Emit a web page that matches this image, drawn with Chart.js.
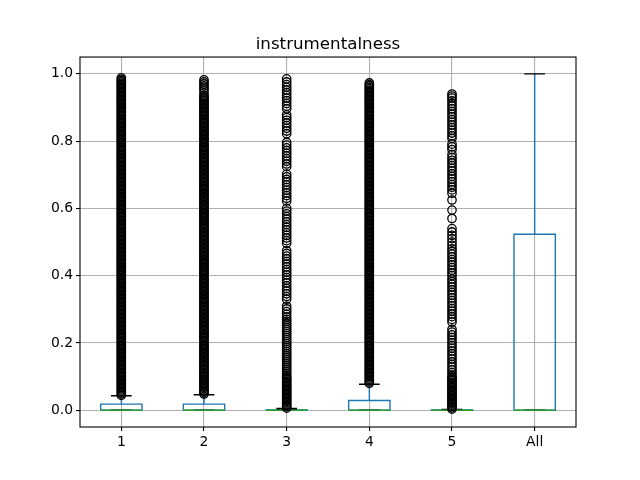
<!DOCTYPE html>
<html>
<head>
<meta charset="utf-8">
<script src="https://cdn.jsdelivr.net/npm/chart.js@4.4.1/dist/chart.umd.min.js"></script>
<style>
  html, body { margin: 0; padding: 0; background: #fff; }
</style>
</head>
<body>
<canvas id="chart" width="640" height="480"></canvas>
<script>
'use strict';

// box stats per group
let categories = ['1', '2', '3', '4', '5', 'All'];
let positions = [1, 2, 3, 4, 5, 6];
let q1 = [0, 0, 0, 0, 0, 0];
let medians = [0, 0, 0, 0, 0, 0];
let q3 = [0.018, 0.018, 0.0005, 0.029, 0.0005, 0.523];
let whiskLow = [0, 0, 0, 0, 0, 0];
let whiskHigh = [0.043, 0.046, 0.005, 0.077, 0.002, 1.0];
let yTicks = [0, 0.2, 0.4, 0.6, 0.8, 1.0];

// outliers - columns 1, 2, 4 are packed solid from the whisker to the top
let fliers1 = [
  0.044, 0.048, 0.052, 0.056, 0.060, 0.064, 0.068, 0.072, 0.076, 0.080, 0.084, 0.088, 0.092, 0.096,
  0.100, 0.104, 0.108, 0.112, 0.116, 0.120, 0.124, 0.128, 0.132, 0.136, 0.140, 0.144, 0.148, 0.152, 0.156, 0.160, 0.164, 0.168, 0.172, 0.176, 0.180, 0.184, 0.188, 0.192, 0.196,
  0.200, 0.204, 0.208, 0.212, 0.216, 0.220, 0.224, 0.228, 0.232, 0.236, 0.240, 0.244, 0.248, 0.252, 0.256, 0.260, 0.264, 0.268, 0.272, 0.276, 0.280, 0.284, 0.288, 0.292, 0.296,
  0.300, 0.304, 0.308, 0.312, 0.316, 0.320, 0.324, 0.328, 0.332, 0.336, 0.340, 0.344, 0.348, 0.352, 0.356, 0.360, 0.364, 0.368, 0.372, 0.376, 0.380, 0.384, 0.388, 0.392, 0.396,
  0.400, 0.404, 0.408, 0.412, 0.416, 0.420, 0.424, 0.428, 0.432, 0.436, 0.440, 0.444, 0.448, 0.452, 0.456, 0.460, 0.464, 0.468, 0.472, 0.476, 0.480, 0.484, 0.488, 0.492, 0.496,
  0.500, 0.504, 0.508, 0.512, 0.516, 0.520, 0.524, 0.528, 0.532, 0.536, 0.540, 0.544, 0.548, 0.552, 0.556, 0.560, 0.564, 0.568, 0.572, 0.576, 0.580, 0.584, 0.588, 0.592, 0.596,
  0.600, 0.604, 0.608, 0.612, 0.616, 0.620, 0.624, 0.628, 0.632, 0.636, 0.640, 0.644, 0.648, 0.652, 0.656, 0.660, 0.664, 0.668, 0.672, 0.676, 0.680, 0.684, 0.688, 0.692, 0.696,
  0.700, 0.704, 0.708, 0.712, 0.716, 0.720, 0.724, 0.728, 0.732, 0.736, 0.740, 0.744, 0.748, 0.752, 0.756, 0.760, 0.764, 0.768, 0.772, 0.776, 0.780, 0.784, 0.788, 0.792, 0.796,
  0.800, 0.804, 0.808, 0.812, 0.816, 0.820, 0.824, 0.828, 0.832, 0.836, 0.840, 0.844, 0.848, 0.852, 0.856, 0.860, 0.864, 0.868, 0.872, 0.876, 0.880, 0.884, 0.888, 0.892, 0.896,
  0.900, 0.904, 0.908, 0.912, 0.916, 0.920, 0.924, 0.928, 0.932, 0.936, 0.940, 0.944, 0.948, 0.952, 0.956, 0.960, 0.964, 0.968, 0.972, 0.976, 0.980, 0.984, 0.988
];
let fliers2 = [
  0.048, 0.052, 0.056, 0.060, 0.064, 0.068, 0.072, 0.076, 0.080, 0.084, 0.088, 0.092, 0.096,
  0.100, 0.104, 0.108, 0.112, 0.116, 0.120, 0.124, 0.128, 0.132, 0.136, 0.140, 0.144, 0.148, 0.152, 0.156, 0.160, 0.164, 0.168, 0.172, 0.176, 0.180, 0.184, 0.188, 0.192, 0.196,
  0.200, 0.204, 0.208, 0.212, 0.216, 0.220, 0.224, 0.228, 0.232, 0.236, 0.240, 0.244, 0.248, 0.252, 0.256, 0.260, 0.264, 0.268, 0.272, 0.276, 0.280, 0.284, 0.288, 0.292, 0.296,
  0.300, 0.304, 0.308, 0.312, 0.316, 0.320, 0.324, 0.328, 0.332, 0.336, 0.340, 0.344, 0.348, 0.352, 0.356, 0.360, 0.364, 0.368, 0.372, 0.376, 0.380, 0.384, 0.388, 0.392, 0.396,
  0.400, 0.404, 0.408, 0.412, 0.416, 0.420, 0.424, 0.428, 0.432, 0.436, 0.440, 0.444, 0.448, 0.452, 0.456, 0.460, 0.464, 0.468, 0.472, 0.476, 0.480, 0.484, 0.488, 0.492, 0.496,
  0.500, 0.504, 0.508, 0.512, 0.516, 0.520, 0.524, 0.528, 0.532, 0.536, 0.540, 0.544, 0.548, 0.552, 0.556, 0.560, 0.564, 0.568, 0.572, 0.576, 0.580, 0.584, 0.588, 0.592, 0.596,
  0.600, 0.604, 0.608, 0.612, 0.616, 0.620, 0.624, 0.628, 0.632, 0.636, 0.640, 0.644, 0.648, 0.652, 0.656, 0.660, 0.664, 0.668, 0.672, 0.676, 0.680, 0.684, 0.688, 0.692, 0.696,
  0.700, 0.704, 0.708, 0.712, 0.716, 0.720, 0.724, 0.728, 0.732, 0.736, 0.740, 0.744, 0.748, 0.752, 0.756, 0.760, 0.764, 0.768, 0.772, 0.776, 0.780, 0.784, 0.788, 0.792, 0.796,
  0.800, 0.804, 0.808, 0.812, 0.816, 0.820, 0.824, 0.828, 0.832, 0.836, 0.840, 0.844, 0.848, 0.852, 0.856, 0.860, 0.864, 0.868, 0.872, 0.876, 0.880, 0.884, 0.888, 0.892, 0.896,
  0.900, 0.904, 0.908, 0.912, 0.916, 0.920, 0.924, 0.928, 0.932, 0.936, 0.944, 0.952, 0.958, 0.964, 0.970, 0.976, 0.982
];
let fliers3 = [
  0.006, 0.010, 0.014, 0.018, 0.022, 0.026, 0.030, 0.034, 0.038, 0.042, 0.046, 0.050, 0.054, 0.058, 0.062, 0.066, 0.070, 0.074, 0.078, 0.082, 0.086, 0.090, 0.094, 0.098, 0.102,
  0.108, 0.114, 0.120, 0.126, 0.132, 0.138, 0.144, 0.150, 0.156, 0.162, 0.168, 0.174, 0.180, 0.186, 0.192, 0.198, 0.204, 0.210, 0.216, 0.222, 0.228, 0.234, 0.240, 0.246, 0.252, 0.258, 0.264, 0.270,
  0.277, 0.285, 0.293, 0.301, 0.309, 0.330, 0.338, 0.346, 0.354, 0.362, 0.370, 0.378, 0.386, 0.394, 0.402, 0.410, 0.418, 0.426, 0.434, 0.442, 0.450, 0.458, 0.466, 0.474,
  0.496, 0.504, 0.512, 0.520, 0.528, 0.536, 0.544, 0.552, 0.560, 0.568, 0.576, 0.584, 0.592, 0.600,
  0.622, 0.630, 0.638, 0.646, 0.654, 0.662, 0.670, 0.678, 0.686, 0.694, 0.702,
  0.724, 0.732, 0.740, 0.748, 0.756, 0.764, 0.772, 0.780, 0.788, 0.796,
  0.822, 0.830, 0.838, 0.846, 0.854, 0.862, 0.870, 0.878,
  0.896, 0.904, 0.912, 0.920, 0.928, 0.936, 0.944, 0.952, 0.960, 0.968, 0.976, 0.985
];
let fliers4 = [
  0.080, 0.084, 0.088, 0.092, 0.096,
  0.100, 0.104, 0.108, 0.112, 0.116, 0.120, 0.124, 0.128, 0.132, 0.136, 0.140, 0.144, 0.148, 0.152, 0.156, 0.160, 0.164, 0.168, 0.172, 0.176, 0.180, 0.184, 0.188, 0.192, 0.196,
  0.200, 0.204, 0.208, 0.212, 0.216, 0.220, 0.224, 0.228, 0.232, 0.236, 0.240, 0.244, 0.248, 0.252, 0.256, 0.260, 0.264, 0.268, 0.272, 0.276, 0.280, 0.284, 0.288, 0.292, 0.296,
  0.300, 0.304, 0.308, 0.312, 0.316, 0.320, 0.324, 0.328, 0.332, 0.336, 0.340, 0.344, 0.348, 0.352, 0.356, 0.360, 0.364, 0.368, 0.372, 0.376, 0.380, 0.384, 0.388, 0.392, 0.396,
  0.400, 0.404, 0.408, 0.412, 0.416, 0.420, 0.424, 0.428, 0.432, 0.436, 0.440, 0.444, 0.448, 0.452, 0.456, 0.460, 0.464, 0.468, 0.472, 0.476, 0.480, 0.484, 0.488, 0.492, 0.496,
  0.500, 0.504, 0.508, 0.512, 0.516, 0.520, 0.524, 0.528, 0.532, 0.536, 0.540, 0.544, 0.548, 0.552, 0.556, 0.560, 0.564, 0.568, 0.572, 0.576, 0.580, 0.584, 0.588, 0.592, 0.596,
  0.600, 0.604, 0.608, 0.612, 0.616, 0.620, 0.624, 0.628, 0.632, 0.636, 0.640, 0.644, 0.648, 0.652, 0.656, 0.660, 0.664, 0.668, 0.672, 0.676, 0.680, 0.684, 0.688, 0.692, 0.696,
  0.700, 0.704, 0.708, 0.712, 0.716, 0.720, 0.724, 0.728, 0.732, 0.736, 0.740, 0.744, 0.748, 0.752, 0.756, 0.760, 0.764, 0.768, 0.772, 0.776, 0.780, 0.784, 0.788, 0.792, 0.796,
  0.800, 0.804, 0.808, 0.812, 0.816, 0.820, 0.824, 0.828, 0.832, 0.836, 0.840, 0.844, 0.848, 0.852, 0.856, 0.860, 0.864, 0.868, 0.872, 0.876, 0.880, 0.884, 0.888, 0.892, 0.896,
  0.900, 0.904, 0.908, 0.912, 0.916, 0.920, 0.924, 0.928, 0.932, 0.936, 0.940, 0.944, 0.948, 0.952, 0.956, 0.960, 0.964, 0.968, 0.973
];
let fliers5 = [
  0.003, 0.007, 0.011, 0.015, 0.019, 0.023, 0.027, 0.031, 0.035, 0.039, 0.043, 0.047, 0.051, 0.055, 0.059, 0.063, 0.067, 0.071, 0.075, 0.079, 0.083, 0.087, 0.091, 0.095, 0.099, 0.104,
  0.112, 0.120, 0.128, 0.136, 0.144, 0.152, 0.160, 0.168, 0.176, 0.184, 0.192, 0.200, 0.208, 0.216, 0.224, 0.232, 0.240,
  0.262, 0.270, 0.278, 0.286, 0.294, 0.302, 0.310, 0.318, 0.326, 0.334, 0.342, 0.350, 0.358, 0.366, 0.374, 0.382, 0.390,
  0.400, 0.408, 0.416, 0.424, 0.432, 0.440, 0.448, 0.456, 0.464, 0.472, 0.480,
  0.490, 0.500, 0.510, 0.520, 0.530, 0.540, 0.570, 0.595, 0.625,
  0.645, 0.655, 0.663, 0.671, 0.679, 0.687, 0.695, 0.703, 0.711, 0.719, 0.727, 0.735, 0.743, 0.751, 0.760,
  0.775, 0.783, 0.791, 0.808, 0.816, 0.824, 0.832, 0.840, 0.848, 0.856, 0.864, 0.872, 0.880, 0.888, 0.896, 0.904, 0.912, 0.920, 0.928, 0.934, 0.940
];
let fliers6 = [];
let allFliers = [fliers1, fliers2, fliers3, fliers4, fliers5, fliers6];

// box geometry (in x units)
const BOX_HALF = 0.25;
const CAP_HALF = 0.125;
const BLUE = '#1f77b4';
const GREEN = '#2ca02c';

// helpers: build line pieces split by null points
function segments(fn) {
  let pts = [];
  for (let i = 0; i < positions.length; i++) {
    fn(i, positions[i]).forEach(p => pts.push(p));
    pts.push({ x: positions[i], y: null });
  }
  return pts;
}

let boxPts = segments((i, x) => [
  { x: x - BOX_HALF, y: q1[i] }, { x: x + BOX_HALF, y: q1[i] },
  { x: x + BOX_HALF, y: q3[i] }, { x: x - BOX_HALF, y: q3[i] },
  { x: x - BOX_HALF, y: q1[i] }
]);
let whiskerPts = segments((i, x) => [
  { x: x, y: q3[i] }, { x: x, y: whiskHigh[i] }, { x: x, y: null },
  { x: x, y: q1[i] }, { x: x, y: whiskLow[i] }
]);
let capPts = segments((i, x) => [
  { x: x - CAP_HALF, y: whiskHigh[i] }, { x: x + CAP_HALF, y: whiskHigh[i] }, { x: x, y: null },
  { x: x - CAP_HALF, y: whiskLow[i] }, { x: x + CAP_HALF, y: whiskLow[i] }
]);
let medianPts = segments((i, x) => [
  { x: x - BOX_HALF, y: medians[i] }, { x: x + BOX_HALF, y: medians[i] }
]);
let flierPts = [];
allFliers.forEach((list, i) => {
  list.forEach(v => flierPts.push({ x: positions[i], y: v }));
});

function lineSet(data, color, order) {
  return {
    type: 'scatter',
    data: data,
    showLine: true,
    spanGaps: false,
    borderColor: color,
    borderWidth: 1.4,
    pointRadius: 0,
    fill: false,
    order: order
  };
}

// top + right spines (chart.js only draws the axis borders)
const framePlugin = {
  id: 'frame',
  afterDatasetsDraw(chart) {
    const a = chart.chartArea;
    const ctx = chart.ctx;
    ctx.save();
    ctx.strokeStyle = '#000';
    ctx.lineWidth = 1.1;
    ctx.strokeRect(a.left, a.top, a.right - a.left, a.bottom - a.top);
    ctx.restore();
  }
};

Chart.defaults.font.family = "'DejaVu Sans', sans-serif";
Chart.defaults.color = '#000';

const ctx = document.getElementById('chart').getContext('2d');
const myChart = new Chart(ctx, { //eslint-disable-line
  type: 'scatter',
  data: {
    datasets: [
      lineSet(boxPts, BLUE, 5),
      lineSet(whiskerPts, BLUE, 4),
      lineSet(capPts, '#000', 3),
      lineSet(medianPts, GREEN, 2),
      {
        type: 'scatter',
        data: flierPts,
        pointStyle: 'circle',
        pointRadius: 4.2,
        pointBorderWidth: 1.3,
        pointBorderColor: '#000',
        pointBackgroundColor: 'rgba(0,0,0,0)',
        order: 1
      }
    ]
  },
  options: {
    responsive: false,
    animation: false,
    layout: { padding: { left: 0, right: 64, top: 0, bottom: 0 } },
    plugins: {
      legend: { display: false },
      tooltip: { enabled: false },
      title: {
        display: true,
        fullSize: false,
        text: 'instrumentalness',
        color: '#000',
        font: { size: 16.7, weight: 'normal' },
        padding: { top: 35, bottom: 2 }
      }
    },
    scales: {
      x: {
        type: 'linear',
        min: 0.5,
        max: 6.5,
        afterBuildTicks: s => { s.ticks = positions.map(v => ({ value: v })); },
        afterFit: s => { s.height = 53; },
        ticks: {
          autoSkip: false,
          maxRotation: 0,
          padding: 3,
          font: { size: 13.9 },
          callback: v => categories[positions.indexOf(v)]
        },
        grid: { color: '#b0b0b0', lineWidth: 1.1, tickColor: '#000', tickLength: 4, tickWidth: 1.1 },
        border: { display: false }
      },
      y: {
        type: 'linear',
        min: -0.05,
        max: 1.05,
        afterBuildTicks: s => { s.ticks = yTicks.map(v => ({ value: v })); },
        afterFit: s => { s.width = 80; },
        ticks: {
          padding: 3,
          font: { size: 13.9 },
          callback: v => v.toFixed(1)
        },
        grid: { color: '#b0b0b0', lineWidth: 1.1, tickColor: '#000', tickLength: 4, tickWidth: 1.1 },
        border: { display: false }
      }
    }
  },
  plugins: [framePlugin]
});
</script>
</body>
</html>
